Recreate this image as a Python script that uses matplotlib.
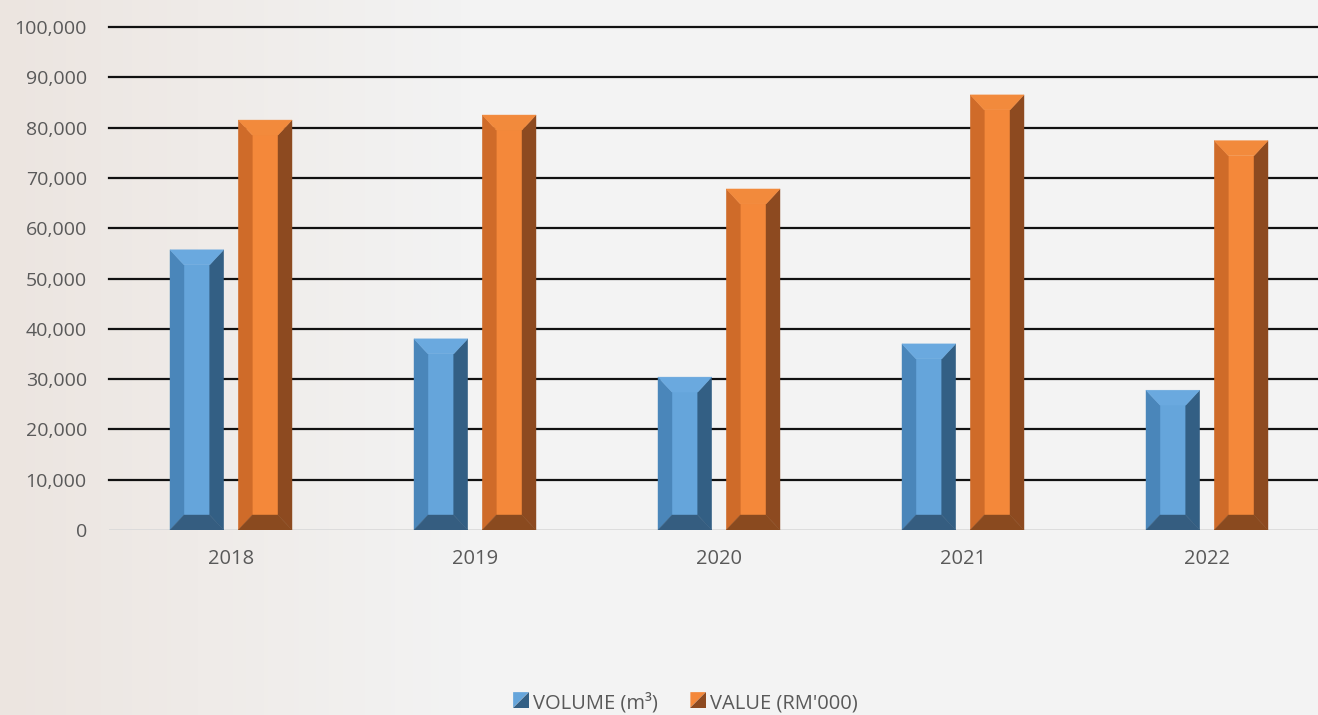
import matplotlib.pyplot as plt
import numpy as np
from matplotlib.patches import Polygon
from matplotlib.legend_handler import HandlerBase

years = ['2018', '2019', '2020', '2021', '2022']
volume = [55700, 38000, 30400, 37000, 27800]
value = [81500, 82500, 67800, 86500, 77400]

series_names = ['VOLUME (m³)', "VALUE (RM'000)"]
# face, left, right, top, bottom shades
blue = ['#65A5DB', '#4A86BA', '#335F84', '#6AA9DF', '#355D80']
orange = ['#F4883A', '#CF6B29', '#8D4A20', '#F28A3C', '#8A4A1F']

plt.rcParams['font.family'] = ['Open Sans', 'DejaVu Sans']

fig = plt.figure(figsize=(13.18, 7.15), dpi=100)

# soft background
bg = fig.add_axes([0, 0, 1, 1], zorder=-10)
grad = np.linspace(0, 1, 300)
img = np.zeros((10, 300, 3))
c0 = np.array([0xEC, 0xE5, 0xE0]) / 255
c1 = np.array([0xF3, 0xF3, 0xF3]) / 255
w = np.clip(grad / 0.35, 0, 1)[None, :, None]
img[:] = c0 * (1 - w) + c1 * w
bg.imshow(img, aspect='auto', extent=[0, 1, 0, 1])
bg.axis('off')

ax = fig.add_axes([109 / 1318, 1 - 530 / 715, 1220 / 1318, 503 / 715])
ax.set_facecolor('none')

x = np.arange(len(years))
bw = 0.22
off = 0.14
ax.set_xlim(-0.5, 4.5)
ax.set_ylim(0, 100000)

bdx = 14 / 244          # bevel width in category units
bdy = 15 / 503 * 100000  # bevel height in data units


def bevel_bar(xc, h, cols):
    l, r = xc - bw / 2, xc + bw / 2
    il, ir = l + bdx, r - bdx
    ib, it = bdy, h - bdy
    faces = [
        ([(il, ib), (ir, ib), (ir, it), (il, it)], cols[0]),
        ([(l, 0), (il, ib), (il, it), (l, h)], cols[1]),
        ([(r, 0), (ir, ib), (ir, it), (r, h)], cols[2]),
        ([(l, h), (il, it), (ir, it), (r, h)], cols[3]),
        ([(l, 0), (il, ib), (ir, ib), (r, 0)], cols[4]),
    ]
    for pts, c in faces:
        ax.add_patch(Polygon(pts, closed=True, facecolor=c, edgecolor=c,
                             linewidth=0.3, zorder=3))


for i in range(len(years)):
    bevel_bar(x[i] - off, volume[i], blue)
    bevel_bar(x[i] + off, value[i], orange)

ax.set_yticks(np.arange(0, 100001, 10000))
ax.set_yticklabels([f'{v:,}' for v in range(0, 100001, 10000)])
ax.set_xticks(x)
ax.set_xticklabels(years)
for yv in range(10000, 100001, 10000):
    ax.axhline(yv, color='#111111', linewidth=1.6, zorder=1, clip_on=False)
ax.axhline(0, color='#D9D9D9', linewidth=1.2, zorder=1)

for s in ax.spines.values():
    s.set_visible(False)
ax.tick_params(axis='both', length=0, colors='#595959')
ax.tick_params(axis='y', pad=16, labelsize=14)
ax.tick_params(axis='x', pad=14, labelsize=14.5)


class BevelHandler(HandlerBase):
    def create_artists(self, legend, orig, xd, yd, width, height, fontsize, trans):
        c = orig.cols
        s = min(width, height)
        x0 = xd + (width - s)
        y0 = yd
        p1 = Polygon([(x0, y0 + s), (x0 + s, y0 + s), (x0, y0)], closed=True,
                     facecolor=c[0], edgecolor='none', transform=trans)
        p2 = Polygon([(x0, y0), (x0 + s, y0), (x0 + s, y0 + s)], closed=True,
                     facecolor=c[2], edgecolor='none', transform=trans)
        return [p1, p2]


class Key:
    def __init__(self, cols):
        self.cols = cols


handles = [Key(blue), Key(orange)]
fig.legend(handles, series_names, handler_map={Key: BevelHandler()},
           loc='center', bbox_to_anchor=(685 / 1318, 1 - 703 / 715), ncol=2,
           frameon=False, fontsize=14.5, labelcolor='#595959',
           handlelength=0.8, handleheight=0.8, handletextpad=0.2,
           columnspacing=1.6, borderpad=0)

fig.savefig('out.png', dpi=100)
